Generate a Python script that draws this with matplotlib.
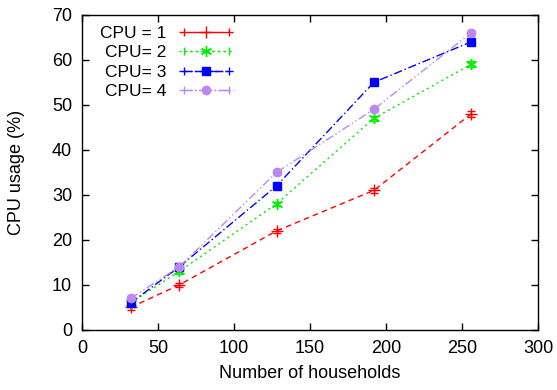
import numpy as np
import matplotlib
matplotlib.use('Agg')
import matplotlib.pyplot as plt
from matplotlib.lines import Line2D
from matplotlib.legend_handler import HandlerLine2D

# data
households = [32, 64, 128, 192, 256]
cpu1 = [5, 10, 22, 31, 48]
cpu2 = [6, 13, 28, 47, 59]
cpu3 = [6, 14, 32, 55, 64]
cpu4 = [7, 14, 35, 49, 66]
err = [0.6, 0.5, 0.5, 0.6, 0.7]

labels = ['CPU = 1', 'CPU= 2', 'CPU= 3', 'CPU= 4']
series = [cpu1, cpu2, cpu3, cpu4]
colors = ['#ff0000', '#00ee00', '#0000ff', '#bb88ee']
styles = [(0, (4, 3)), (0, (1.5, 2.5)), (0, (6, 2, 1, 2)), (0, (6, 2, 1, 2, 1, 2))]
markers = ['+', (6, 2, 0), 's', 'o']
msizes = [8, 8, 6, 6]

plt.rcParams['font.family'] = ['Liberation Sans', 'DejaVu Sans']

fig = plt.figure(figsize=(5.57, 3.9), dpi=100)
ax = fig.add_axes([0.147, 0.154, 0.819, 0.808])

handles = []
handler_map = {}
for y, lab, c, ls, m, ms in zip(series, labels, colors, styles, markers, msizes):
    ax.errorbar(households, y, yerr=err, color=c, ls=ls, lw=1, marker=m,
                ms=ms, mew=1, capsize=3, elinewidth=1)
    main = Line2D([], [], color=c, ls=ls, lw=1, marker=m, ms=ms, mew=1)
    caps = Line2D([], [], color=c, ls=ls, lw=1, marker='|', ms=6, mew=1)
    handler_map[caps] = HandlerLine2D(numpoints=2)
    handles.append((main, caps))

ax.set_xlim(0, 300)
ax.set_ylim(0, 70)
ax.set_xticks(np.arange(0, 301, 50))
ax.set_yticks(np.arange(0, 71, 10))
ax.tick_params(direction='in', top=True, right=True, length=5, width=1,
               labelsize=13, pad=7)
for s in ax.spines.values():
    s.set_linewidth(1)

ax.set_xlabel('Number of households', fontsize=13, labelpad=6)
ax.set_ylabel('CPU usage (%)', fontsize=13)
ax.yaxis.set_label_coords(-0.125, 0.5)

leg = ax.legend(handles, labels, handler_map=handler_map, loc='upper left',
                frameon=False, markerfirst=False, fontsize=12.5,
                handlelength=3.2, handletextpad=0.7, labelspacing=0.24,
                borderaxespad=0, borderpad=0, bbox_to_anchor=(0.04, 0.965))
# right-justify the key texts like gnuplot does
for col in leg._legend_handle_box.get_children():
    col.align = 'right'

plt.savefig('out.png', dpi=100)
